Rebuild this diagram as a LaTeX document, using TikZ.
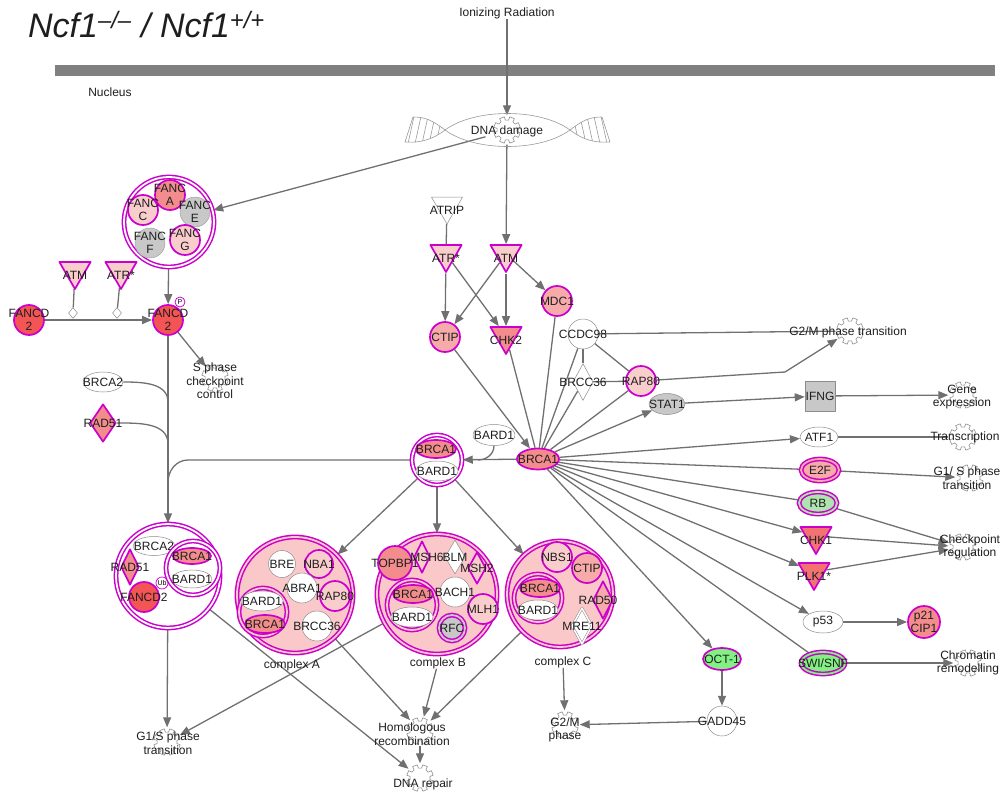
\documentclass[tikz,border=0pt]{standalone}
\usepackage{fontspec}
\setmainfont{Liberation Sans}
\usetikzlibrary{shapes.geometric,arrows.meta,backgrounds}
\definecolor{mag}{RGB}{204,0,204}
\definecolor{edg}{RGB}{112,112,112}
\definecolor{ink}{RGB}{30,30,30}
\definecolor{memb}{RGB}{128,128,128}
\definecolor{red1}{RGB}{243,85,85}
\definecolor{red2}{RGB}{243,115,115}
\definecolor{sal}{RGB}{243,140,140}
\definecolor{salm}{RGB}{246,170,170}
\definecolor{pnk}{RGB}{250,205,205}
\definecolor{cpk}{RGB}{250,200,200}
\definecolor{gry}{RGB}{200,200,200}
\definecolor{grn}{RGB}{130,240,130}
\definecolor{lgrn}{RGB}{175,228,175}
\tikzset{
  lab/.style={font=\fontsize{12}{13.5}\selectfont, text=ink, align=center, inner sep=0pt},
  tx/.style={label={[lab]center:#1}},
  trx/.style={label={[lab,yshift=-4pt]center:#1}},
  mol/.style={draw=mag, line width=1.7pt},
  wht/.style={draw=black!45, line width=.5pt, fill=white},
  dbl/.style={draw=mag, line width=1.5pt, double=#1, double distance=1.8pt, fill=#1},
  crc/.style={circle, minimum size=30pt, inner sep=0pt},
  ell/.style={ellipse, minimum width=40pt, minimum height=20pt, inner sep=0pt},
  tri/.style={regular polygon, regular polygon sides=3, shape border rotate=180, minimum size=36pt, inner sep=0pt},
  dmd/.style={diamond, minimum width=22pt, minimum height=36pt, inner sep=0pt},
  cplx/.style={circle, inner sep=0pt, dbl=#1}, cplx/.default=white,
  ln/.style={draw=edg, line width=1.3pt},
  ar/.style={ln, -{Triangle[length=10pt,width=8pt]}},
  fn/.style={circle, minimum size=29pt, inner sep=0pt, path picture={
    \draw[black!45, line width=.6pt, shift={(path picture bounding box.center)}]
      (0:10) \foreach \k in {0,...,7}{ -- (\k*45+9:10) -- (\k*45+12:13.5) -- (\k*45+33:13.5) -- (\k*45+36:10)} -- cycle;}},
}
\begin{document}
\begin{tikzpicture}[x=1pt, y=-1pt, line join=round, line cap=round]
	\useasboundingbox (0,0) rectangle (1005,795);
	\node[lab, anchor=west, font=\fontsize{34}{38}\selectfont\itshape] (ttl) at (28,25) {Ncf1\textsuperscript{–/–} / Ncf1\textsuperscript{+/+}};
	\node[lab] (ionr) at (507,13) {Ionizing Radiation};
	\node[lab] (nucl) at (110,92) {Nucleus};
	% DNA damage helix
	\begin{scope}[draw=black!40, line width=.6pt]
		\draw (445,130) .. controls (475,108) and (540,108) .. (570,130) .. controls (540,152) and (475,152) .. (445,130);
		\draw (445,130) .. controls (432,120) and (425,117) .. (413,117) -- (405,142) .. controls (420,143) and (432,140) .. (445,130);
		\draw (570,130) .. controls (583,120) and (590,117) .. (602,117) -- (610,142) .. controls (595,143) and (583,140) .. (570,130);
		\begin{scope}
			\clip (445,130) .. controls (432,120) and (425,117) .. (413,117) -- (405,142) .. controls (420,143) and (432,140) .. (445,130);
			\foreach \i in {0,...,6} \draw (408+\i*7,112) -- (400+\i*7,148);
		\end{scope}
		\begin{scope}
			\clip (570,130) .. controls (583,120) and (590,117) .. (602,117) -- (610,142) .. controls (595,143) and (583,140) .. (570,130);
			\foreach \i in {0,...,6} \draw (565+\i*7,112) -- (573+\i*7,148);
		\end{scope}
	\end{scope}
	\node[fn] (dnaic) at (507,130) {};
	\node[lab] (dna) at (507,131) {DNA damage};
	% FANC core complex
	\node[cplx, minimum size=90pt] (fancx) at (169,222) {};
	\node[crc, mol, fill=sal, tx={FANC\\A}] (fanca) at (170,195) {};
	\node[crc, mol, fill=pnk, tx={FANC\\C}] (fancc) at (143,210) {};
	\node[crc, draw=black!40, fill=gry, tx={FANC\\E}] (fance) at (195,212) {};
	\node[crc, draw=black!40, fill=gry, tx={FANC\\F}] (fancf) at (150,243) {};
	\node[crc, mol, fill=pnk, tx={FANC\\G}] (fancg) at (185,240) {};
	\node[tri, mol, fill=pnk, trx=ATM] (atml) at (75,271) {};
	\node[tri, mol, fill=pnk, trx=ATR*] (atrl) at (121,271) {};
	\node[dmd, wht, minimum width=9pt, minimum height=11pt] (dg1) at (73,313) {};
	\node[dmd, wht, minimum width=9pt, minimum height=11pt] (dg2) at (117,313) {};
	\node[crc, mol, fill=red1, tx={FANCD\\2}] (fancdl) at (29,320) {};
	\node[crc, mol, fill=red1, tx={FANCD\\2}] (fancd) at (168,320) {};
	\node[circle, draw=mag, line width=.8pt, fill=white, minimum size=10pt, inner sep=0pt, font=\fontsize{7}{7}\selectfont] (phos) at (180,302) {P};
	\node[fn] (sphic) at (215,378) {};
	\node[lab] (sph) at (215,381) {S phase\\checkpoint\\control};
	\node[ell, wht, tx=BRCA2] (brca2l) at (103,382) {};
	\node[dmd, mol, fill=sal, minimum width=26pt, minimum height=38pt, tx=RAD51] (rad51l) at (103,423) {};
	\coordinate (j1) at (168,402);
	\coordinate (j2) at (168,444);
	\coordinate (j3a) at (188,460);
	\coordinate (j3) at (168,482);
	% BRCA2 complex
	\node[cplx, minimum size=104pt] (brca2x) at (168,576) {};
	\node[ell, wht, minimum width=42pt, minimum height=19pt, tx=BRCA2] (brca2i) at (154,546) {};
	\node[dmd, mol, fill=sal, minimum width=18pt, minimum height=36pt, tx=RAD51] (rad51i) at (130,567) {};
	\node[crc, mol, fill=red1, tx=FANCD2] (fancdi) at (144,597) {};
	\node[circle, draw=mag, line width=.7pt, fill=white, minimum size=12pt, inner sep=0pt, font=\fontsize{7}{7}\selectfont] (ubq) at (162,583) {Ub};
	\node[cplx, minimum size=54pt] (bbi) at (193,568) {};
	\node[ell, mol, fill=sal, minimum width=38pt, minimum height=16pt, tx=BRCA1] (brca1i) at (192,556) {};
	\node[ell, wht, minimum width=40pt, minimum height=18pt, tx=BARD1] (bard1i) at (192,579) {};
	\node[fn] (g1sic) at (167,742) {};
	\node[lab] (g1s) at (168,743) {G1/S phase\\transition};
	% BRCA1 hub and upstream kinases
	\node[cplx, minimum size=50pt] (bbx) at (437,460) {};
	\node[ell, mol, fill=sal, minimum width=40pt, minimum height=18pt, tx=BRCA1] (brca1m) at (436,449) {};
	\node[ell, wht, minimum width=42pt, minimum height=20pt, tx=BARD1] (bard1m) at (437,471) {};
	\node[ell, wht, minimum width=42pt, minimum height=21pt, tx=BARD1] (bard1f) at (494,435) {};
	\coordinate (j4) at (478,460);
	\node[ell, mol, fill=sal, minimum width=42pt, minimum height=21pt, tx=BRCA1] (hub) at (538,459) {};
	\node[tri, draw=black!45, line width=.5pt, fill=white, trx=ATRIP] (atrip) at (447,206) {};
	\node[tri, mol, fill=pnk, trx=ATR*] (atr) at (446,254) {};
	\node[tri, mol, fill=pnk, trx=ATM] (atm) at (506,254) {};
	\node[crc, mol, fill=salm, tx=CTIP] (ctip) at (445,337) {};
	\node[tri, mol, fill=sal, trx=CHK2] (chk2) at (506,336) {};
	\node[crc, mol, fill=salm, tx=MDC1] (mdc1) at (557,301) {};
	\node[crc, wht, tx=CCDC98] (ccdc) at (583,334) {};
	\node[dmd, wht, minimum width=20pt, minimum height=37pt, tx=BRCC36] (brcc) at (583,382) {};
	\node[crc, mol, fill=pnk, tx=RAP80] (rap80) at (641,381) {};
	\node[ell, draw=black!45, line width=.5pt, fill=gry, minimum width=36pt, minimum height=21pt, tx=STAT1] (stat1) at (667,404) {};
	\coordinate (kink) at (785,372);
	% targets on the right
	\node[rectangle, draw=black!45, line width=.5pt, fill=gry, minimum size=30pt, inner sep=0pt, tx=IFNG] (ifng) at (820,396) {};
	\node[ell, wht, minimum width=38pt, tx=ATF1] (atf1) at (819,437) {};
	\node[ell, dbl=salm, minimum width=38pt, minimum height=22pt, tx=E2F] (e2f) at (820,470) {};
	\node[ell, dbl=lgrn, minimum width=38pt, minimum height=22pt, tx=RB] (rb) at (818,503) {};
	\node[tri, mol, fill=red2, trx=CHK1] (chk1) at (816,536) {};
	\node[tri, mol, fill=red2, trx=PLK1*] (plk1) at (814,572) {};
	\node[ell, wht, minimum width=40pt, minimum height=22pt, tx=p53] (p53) at (823,622) {};
	\node[crc, mol, fill=sal, minimum size=32pt, tx={p21\\CIP1}] (p21) at (924,622) {};
	\node[ell, mol, fill=grn, minimum width=38pt, minimum height=22pt, tx=OCT-1] (oct1) at (722,659) {};
	\node[ell, dbl=grn, minimum width=44pt, minimum height=22pt, tx=SWI/SNF] (swi) at (823,663) {};
	\node[crc, wht, tx=GADD45] (gadd) at (722,721) {};
	\node[fn] (g2mtic) at (850,331) {};
	\node[lab] (g2mt) at (848,332) {G2/M phase transition};
	\node[fn] (geneic) at (963,395) {};
	\node[lab] (gene) at (962,397) {Gene\\expression};
	\node[fn] (trnic) at (963,437) {};
	\node[lab] (trn) at (965,437) {Transcription};
	\node[fn] (g1tic) at (970,478) {};
	\node[lab] (g1t) at (967,478) {G1/ S phase\\transition};
	\node[fn] (chkic) at (963,547) {};
	\node[lab] (chkr) at (970,547) {Checkpoint\\regulation};
	\node[fn] (chric) at (968,663) {};
	\node[lab] (chrm) at (968,663) {Chromatin\\remodelling};
	% complex A
	\node[cplx=cpk, minimum size=116pt] (cxa) at (295,595) {};
	\node[lab] (cxalab) at (292,665) {complex A};
	\node[crc, wht, minimum size=27pt, tx=BRE] (bre) at (282,564) {};
	\node[crc, mol, fill=pnk, minimum size=28pt, tx=NBA1] (nba1) at (319,564) {};
	\node[crc, wht, tx=ABRA1] (abra1) at (302,588) {};
	\node[crc, mol, fill=pnk, tx=RAP80] (rap80a) at (335,596) {};
	\node[cplx=cpk, minimum size=48pt] (bba) at (263,612) {};
	\node[ell, wht, minimum width=42pt, tx=BARD1] (bard1a) at (262,601) {};
	\node[ell, mol, fill=sal, minimum width=40pt, minimum height=18pt, tx=BRCA1] (brca1a) at (265,624) {};
	\node[crc, wht, tx=BRCC36] (brcc36a) at (317,626) {};
	% complex B
	\node[cplx=cpk, minimum size=120pt] (cxb) at (437,594) {};
	\node[lab] (cxblab) at (438,663) {complex B};
	\node[crc, mol, fill=sal, minimum size=34pt, tx=TOPBP1] (topbp1) at (395,563) {};
	\node[dmd, mol, fill=pnk, minimum width=16pt, minimum height=32pt, label={[lab,xshift=5pt]center:MSH6}] (msh6) at (422,557) {};
	\node[dmd, wht, minimum width=20pt, minimum height=34pt, tx=BLM] (blm) at (455,557) {};
	\node[dmd, mol, fill=pnk, minimum width=18pt, minimum height=32pt, tx=MSH2] (msh2) at (477,568) {};
	\node[cplx=cpk, minimum size=50pt] (bbb) at (412,605) {};
	\node[ell, mol, fill=sal, minimum width=40pt, minimum height=18pt, tx=BRCA1] (brca1b) at (413,594) {};
	\node[ell, wht, minimum width=42pt, tx=BARD1] (bard1b) at (412,617) {};
	\node[crc, wht, tx=BACH1] (bach1) at (455,592) {};
	\node[crc, mol, fill=pnk, tx=MLH1] (mlh1) at (483,609) {};
	\node[circle, dbl=gry, minimum size=26pt, inner sep=0pt, tx=RFC] (rfc) at (452,628) {};
	% complex C
	\node[cplx=cpk, minimum size=106pt] (cxc) at (560,594) {};
	\node[lab] (cxclab) at (563,662) {complex C};
	\node[crc, mol, fill=pnk, tx=NBS1] (nbs1) at (557,557) {};
	\node[crc, mol, fill=salm, tx=CTIP] (ctipc) at (587,568) {};
	\node[cplx=cpk, minimum size=48pt] (bbc) at (538,598) {};
	\node[ell, mol, fill=sal, minimum height=18pt, tx=BRCA1] (brca1c) at (540,588) {};
	\node[ell, wht, tx=BARD1] (bard1c) at (538,610) {};
	\node[dmd, mol, fill=salm, minimum width=20pt, minimum height=38pt, label={[lab,xshift=-5pt]center:RAD50}] (rad50) at (603,600) {};
	\node[dmd, draw=black!45, line width=.5pt, double=white, double distance=1.5pt, fill=white, minimum width=20pt, minimum height=36pt, tx=MRE11] (mre11) at (582,626) {};
	% processes at the bottom
	\node[fn] (hric) at (420,731) {};
	\node[lab] (hr) at (412,734) {Homologous\\recombination};
	\node[fn] (dnric) at (420,778) {};
	\node[lab] (dnr) at (423,784) {DNA repair};
	\node[fn] (g2mic) at (565,725) {};
	\node[lab] (g2m) at (565,730) {G2/M\\phase};
	\begin{scope}[on background layer]
		\fill[memb] (55,65) rectangle (995,76);
		\draw[ar] (ionr) -- (dnaic);
		\draw[ar] (dna) -- (fancx);
		\draw[ar] (dnaic) -- (atm);
		\draw[ar] (fancx) -- (fancd);
		\draw[ar] (fancdl) -- (fancd);
		\draw[ln] (atml) -- (dg1);
		\draw[ln] (atrl) -- (dg2);
		\draw[ar] (fancd) -- (sphic);
		\draw[ar] (fancd) -- (brca2x);
		\draw[ln] (brca2l.east) to[out=0,in=90] (j1);
		\draw[ln] (rad51l.east) to[out=0,in=90] (j2);
		\draw[ln] (bbx.west) -- (j3a) to[out=180,in=90] (j3);
		\draw[ar] (brca2x) -- (g1sic);
		\draw[ar] (brca2x) -- (dnric);
		\draw[ar] (cxb) -- (g1sic);
		\draw[ar] (cxa) -- (hric);
		\draw[ar] (cxblab) -- (hric);
		\draw[ar] (cxc) -- (hric);
		\draw[ar] (hric) -- (dnric);
		\draw[ar] (cxclab) -- (g2mic);
		\draw[ar] (gadd) -- (g2mic);
		\draw[ar] (oct1) -- (gadd);
		\draw[ar] (bbx) -- (cxa);
		\draw[ar] (bbx) -- (cxb);
		\draw[ar] (bbx) -- (cxc);
		\draw[ar] (hub) -- (bbx);
		\draw[ln] (bard1f.south) to[out=-90,in=0] (j4);
		\draw[ln] (atrip) -- (atr);
		\draw[ar] (atr) -- (ctip);
		\draw[ar] (atr) -- (chk2);
		\draw[ar] (atm) -- (ctip);
		\draw[ar] (atm) -- (chk2);
		\draw[ar] (atm) -- (mdc1);
		\draw[ar] (ctip) -- (hub);
		\draw[ln] (chk2) -- (hub);
		\draw[ln] (mdc1) -- (hub);
		\draw[ln] (ccdc) -- (hub);
		\draw[ln] (brcc) -- (hub);
		\draw[ln] (rap80) -- (hub);
		\draw[ln] (ccdc) -- (brcc);
		\draw[ln] (ccdc) -- (rap80);
		\draw[ln] (brcc) -- (rap80);
		\draw[ln] (ccdc) -- (g2mtic);
		\draw[ar] (rap80) -- (kink) -- (g2mtic);
		\draw[ar] (hub) -- (stat1);
		\draw[ar] (stat1) -- (ifng);
		\draw[ar] (ifng) -- (geneic);
		\draw[ar] (hub) -- (atf1);
		\draw[ln] (atf1) -- (trnic);
		\draw[ln] (hub) -- (e2f);
		\draw[ar] (e2f) -- (g1tic);
		\draw[ln] (hub) -- (rb);
		\draw[ar] (rb) -- (chkic);
		\draw[ar] (hub) -- (chk1);
		\draw[ar] (chk1) -- (chkic);
		\draw[ar] (hub) -- (plk1);
		\draw[ar] (plk1) -- (chkic);
		\draw[ar] (hub) -- (p53);
		\draw[ar] (p53) -- (p21);
		\draw[ln] (hub) -- (swi);
		\draw[ar] (swi) -- (chric);
		\draw[ar] (hub) -- (oct1);
	\end{scope}
\end{tikzpicture}
\end{document}
